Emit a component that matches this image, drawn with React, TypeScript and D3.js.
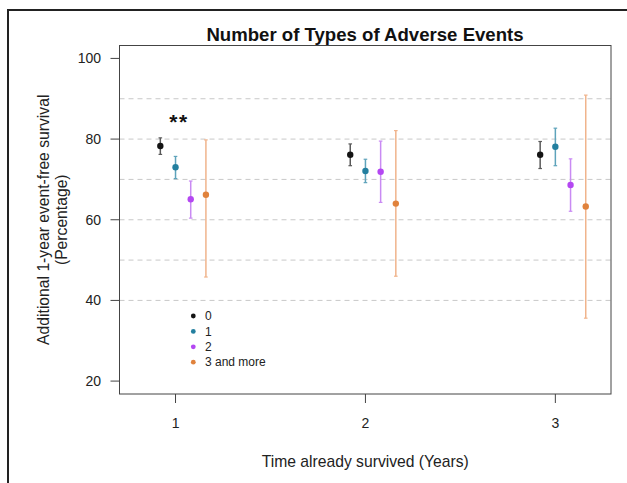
import React from "react";
import * as d3 from "d3";

const years = [1, 2, 3];
const groups = ["0", "1", "2", "3 and more"];
const groupOffsets = [-0.08, 0, 0.08, 0.16];
const pointColors = ["#141414", "#237f9f", "#b447f2", "#e0823c"];
const barColors = ["#5a5a5a", "#5ea3bb", "#c98af3", "#f0b48c"];

// estimates per group, per year
const estimates = [
  [78.3, 76.1, 76.1],
  [73.0, 72.1, 78.1],
  [65.1, 71.9, 68.6],
  [66.2, 64.0, 63.3],
];
const lowers = [
  [76.2, 73.4, 72.7],
  [70.2, 69.2, 73.4],
  [60.4, 64.3, 62.1],
  [45.8, 46.0, 35.6],
];
const uppers = [
  [80.3, 78.8, 79.4],
  [75.7, 75.0, 82.7],
  [69.6, 79.5, 75.1],
  [79.8, 82.1, 90.9],
];
const yTicks = [20, 40, 60, 80, 100];
const gridValues = [40, 50, 60, 70, 80, 90];

const W = 627;
const H = 483;
const left = 119.5;
const right = 611;
const top = 45.5;
const bottom = 394;

export default function App() {
  const x = d3.scaleLinear().domain([0.705, 3.293]).range([left, right]);
  const y = d3.scaleLinear().domain([16.8, 103.2]).range([bottom, top]);
  const font = "Liberation Sans, Arial, sans-serif";
  const cx = (left + right) / 2;

  return (
    <svg
      width={W}
      height={H}
      style={{ position: "absolute", left: 0, top: 0 }}
      fontFamily={font}
    >
      <rect x={0} y={0} width={W} height={H} fill="#fff" />
      {/* outer frame */}
      <rect x={8} y={10} width={W + 20} height={H + 20} fill="none" stroke="#222" strokeWidth={2} />

      {/* grid */}
      {gridValues.map((g) => (
        <line
          key={g}
          x1={left}
          x2={right}
          y1={y(g)}
          y2={y(g)}
          stroke="#c8c8c8"
          strokeWidth={1}
          strokeDasharray="5,4"
        />
      ))}

      {/* plot box */}
      <rect x={left} y={top} width={right - left} height={bottom - top} fill="none" stroke="#444" strokeWidth={1} />

      {/* y axis ticks */}
      {yTicks.map((t) => (
        <g key={t}>
          <line x1={left - 9} x2={left} y1={y(t)} y2={y(t)} stroke="#444" />
          <text x={101} y={y(t)} dy="0.35em" textAnchor="end" fontSize={14} fill="#222">
            {t}
          </text>
        </g>
      ))}

      {/* x axis ticks */}
      {years.map((t) => (
        <g key={t}>
          <line x1={x(t)} x2={x(t)} y1={bottom} y2={bottom + 9} stroke="#444" />
          <text x={x(t)} y={423} dy="0.35em" textAnchor="middle" fontSize={14} fill="#222">
            {t}
          </text>
        </g>
      ))}

      {/* error bars and points */}
      {groups.map((g, gi) =>
        years.map((yr, yi) => {
          const px = x(yr + groupOffsets[gi]);
          return (
            <g key={g + yr}>
              <line x1={px} x2={px} y1={y(lowers[gi][yi])} y2={y(uppers[gi][yi])} stroke={barColors[gi]} strokeWidth={1.5} />
              <line x1={px - 1.8} x2={px + 1.8} y1={y(lowers[gi][yi])} y2={y(lowers[gi][yi])} stroke={barColors[gi]} strokeWidth={1.2} />
              <line x1={px - 1.8} x2={px + 1.8} y1={y(uppers[gi][yi])} y2={y(uppers[gi][yi])} stroke={barColors[gi]} strokeWidth={1.2} />
              <circle cx={px} cy={y(estimates[gi][yi])} r={3.2} fill={pointColors[gi]} />
            </g>
          );
        })
      )}

      {/* significance */}
      <text x={179} y={129} textAnchor="middle" fontSize={21} fontWeight="bold" letterSpacing={1.5} fill="#111">
        **
      </text>

      {/* legend */}
      {groups.map((g, gi) => (
        <g key={g}>
          <circle cx={193.3} cy={316 + gi * 15.4} r={2.4} fill={pointColors[gi]} />
          <text x={205} y={316 + gi * 15.4} dy="0.35em" fontSize={12} fill="#222">
            {g}
          </text>
        </g>
      ))}

      {/* title */}
      <text x={365} y={41} textAnchor="middle" fontSize={18.6} fontWeight="bold" fill="#111">
        Number of Types of Adverse Events
      </text>

      {/* axis labels */}
      <text x={cx} y={462} dy="0.35em" textAnchor="middle" fontSize={15.7} fill="#222">
        Time already survived (Years)
      </text>
      <g transform={`translate(43, ${(top + bottom) / 2}) rotate(-90)`}>
        <text x={0} y={0} dy="0.35em" textAnchor="middle" fontSize={15.7} fill="#222">
          Additional 1-year event-free survival
        </text>
      </g>
      <g transform={`translate(61, ${(top + bottom) / 2}) rotate(-90)`}>
        <text x={0} y={0} dy="0.35em" textAnchor="middle" fontSize={15.7} fill="#222">
          (Percentage)
        </text>
      </g>
    </svg>
  );
}
